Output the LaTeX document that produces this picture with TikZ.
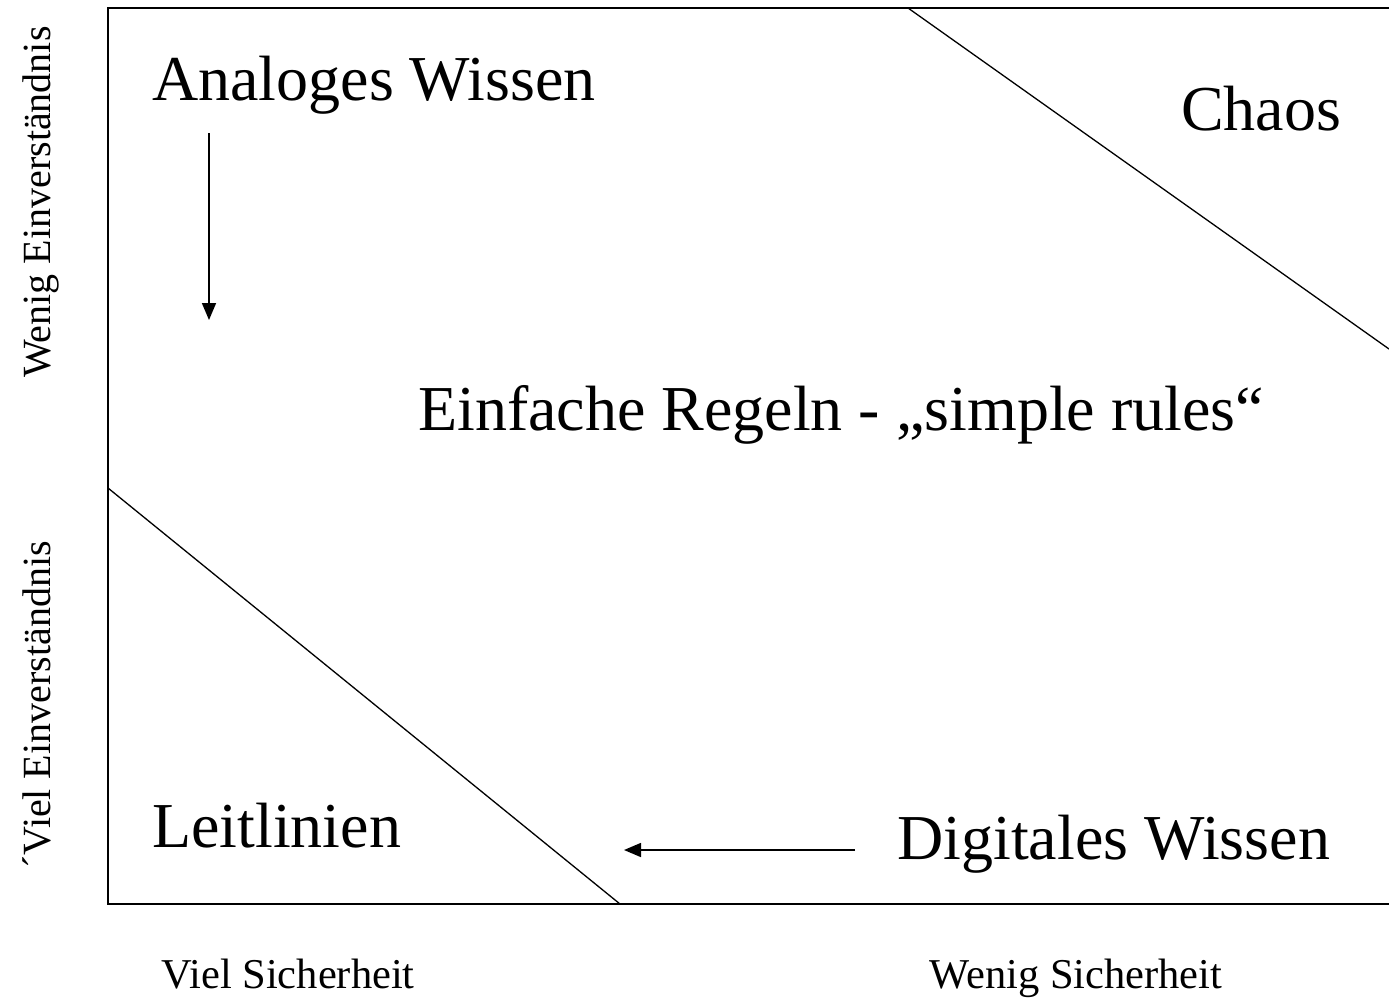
\documentclass[tikz,border=0pt]{standalone}
\usepackage{fontspec}
\setmainfont{Liberation Serif}
\usetikzlibrary{arrows.meta}
\begin{document}
\begin{tikzpicture}[x=1pt,y=-1pt,
  big/.style={inner sep=0pt,anchor=base west,font=\fontsize{64}{70}\selectfont},
  axis/.style={inner sep=0pt,font=\fontsize{40}{46}\selectfont},
  haxis/.style={inner sep=0pt,font=\fontsize{42.5}{48}\selectfont},
  frame/.style={line width=2pt},
  diag/.style={line width=1.3pt},
  arr/.style={line width=1.6pt,-{Triangle[length=17pt,width=14pt]}}]
\useasboundingbox (0,0) rectangle (1389,999);
% frame (open on the right)
\draw[frame] (1389,8) -- (108,8) -- (108,904) -- (1389,904);
% diagonals
\coordinate (d1a) at (908,8);
\coordinate (d1b) at (1389,349);
\coordinate (d2a) at (108,488);
\coordinate (d2b) at (620,904);
\draw[diag] (d1a) -- (d1b);
\draw[diag] (d2a) -- (d2b);
% texts
\node[big] (analog) at (152,100) {Analoges Wissen};
\node[big] (chaos) at (1181,130) {Chaos};
\node[big] (regeln) at (418,430) {Einfache Regeln - „simple rules“};
\node[big] (leit) at (152,847) {Leitlinien};
\node[big] (digital) at (897,859) {Digitales Wissen};
% axis labels
\node[haxis,anchor=base] (vs) at (288,988) {Viel Sicherheit};
\node[haxis,anchor=base] (ws) at (1076,988) {Wenig Sicherheit};
\node[axis,anchor=base,rotate=90] (we) at (50,202) {Wenig Einverständnis};
\node[axis,anchor=base,rotate=90] (ve) at (50,705) {´Viel Einverständnis};
% arrows
\coordinate (a1s) at (209,133);
\coordinate (a1e) at (209,320);
\coordinate (a2s) at (855,850);
\coordinate (a2e) at (624,850);
\draw[arr] (a1s) -- (a1e);
\draw[arr] (a2s) -- (a2e);
\end{tikzpicture}
\end{document}
